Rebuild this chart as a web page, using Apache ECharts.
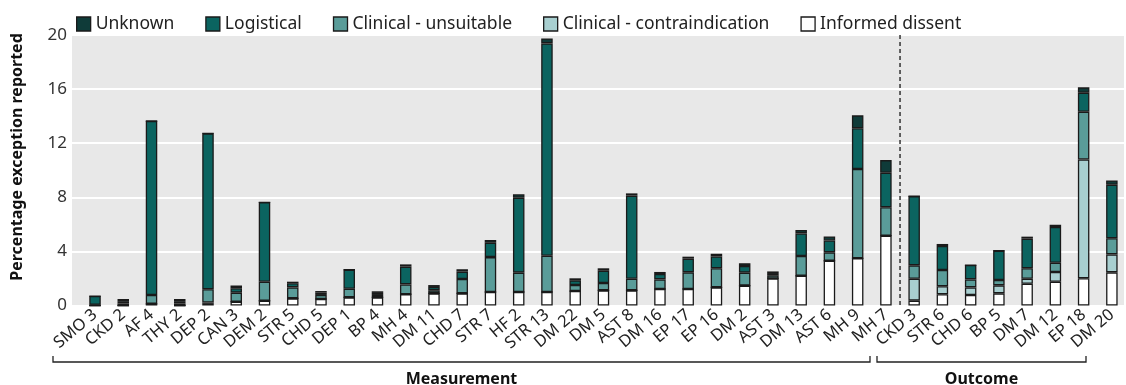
<!DOCTYPE html>
<html>
<head>
<meta charset="utf-8">
<script src="https://cdn.jsdelivr.net/npm/echarts@6/dist/echarts.min.js"></script>
<style>
html,body{margin:0;padding:0;background:#fff;}
#c{width:1126px;height:385px;}
</style>
</head>
<body>
<div id="c"></div>
<script>
const categories = ['SMO 3','CKD 2','AF 4','THY 2','DEP 2','CAN 3','DEM 2','STR 5','CHD 5','DEP 1','BP 4','MH 4','DM 11','CHD 7','STR 7','HF 2','STR 13','DM 22','DM 5','AST 8','DM 16','EP 17','EP 16','DM 2','AST 3','DM 13','AST 6','MH 9','MH 7','CKD 3','STR 6','CHD 6','BP 5','DM 7','DM 12','EP 18','DM 20'];
const informedDissent = [0,0,0.12,0,0.12,0.28,0.35,0.53,0.48,0.6,0.6,0.83,0.9,0.9,1.0,1.0,1.0,1.07,1.12,1.12,1.22,1.22,1.34,1.47,2.0,2.2,3.31,3.49,5.16,0.36,0.83,0.78,0.9,1.61,1.76,2.01,2.45];
const clinicalContraindication = [0,0,0,0,0.1,0,0,0,0,0,0,0,0,0,0,0,0,0,0,0,0,0,0,0,0,0,0,0,0,1.62,0.59,0.56,0.59,0.37,0.72,8.79,1.33];
const clinicalUnsuitable = [0.05,0.15,0.66,0.15,0.98,0.67,1.41,0.81,0.30,0.64,0.18,0.73,0.22,1.06,2.58,1.43,2.68,0.45,0.54,0.86,0.71,1.23,1.41,0.96,0.23,1.46,0.62,6.6,2.1,0.99,1.2,0.59,0.39,0.77,0.68,3.53,1.19];
const logistical = [0.65,0.17,12.86,0.17,11.52,0.32,5.87,0.30,0.17,1.41,0.15,1.31,0.25,0.54,1.06,5.54,15.7,0.34,0.91,6.14,0.40,1.01,0.88,0.49,0.17,1.67,0.88,3.01,2.56,5.12,1.78,1.06,2.17,2.19,2.64,1.4,3.96];
const unknown = [0,0.16,0,0.16,0,0.2,0,0.12,0.12,0,0.12,0.17,0.14,0.18,0.2,0.25,0.37,0.15,0.18,0.17,0.15,0.15,0.2,0.2,0.12,0.25,0.3,0.96,0.93,0,0.15,0,0,0.15,0.17,0.4,0.32];
const yTicks = [0,4,8,12,16,20];
const groups = ['Measurement','Outcome'];
const yTitle = 'Percentage exception reported';

const FONT = 'Noto Sans';
const colors = {
  'Informed dissent':'#ffffff',
  'Clinical - contraindication':'#a8cfd0',
  'Clinical - unsuitable':'#5a9c99',
  'Logistical':'#0b6460',
  'Unknown':'#0f3b39'
};
const seriesDefs = [
  ['Informed dissent', informedDissent],
  ['Clinical - contraindication', clinicalContraindication],
  ['Clinical - unsuitable', clinicalUnsuitable],
  ['Logistical', logistical],
  ['Unknown', unknown]
];

const chart = echarts.init(document.getElementById('c'), null, {renderer:'canvas'});
const option = {
  animation:false,
  textStyle:{fontFamily:FONT},
  legend:{
    data:['Unknown','Logistical','Clinical - unsuitable','Clinical - contraindication','Informed dissent'],
    left:71, top:10, icon:'rect', itemWidth:14, itemHeight:14, itemGap:31,
    itemStyle:{borderColor:'#1a1a1a', borderWidth:1.3},
    textStyle:{fontSize:17.5, color:'#222', fontFamily:FONT}
  },
  grid:[
    {left:80.9, top:35, width:1046.4, bottom:79.5},
    {left:72, top:35, right:2, bottom:79.5, show:true, backgroundColor:'#e8e8e8', borderWidth:0}
  ],
  xAxis:[
    {type:'category', gridIndex:0, data:categories, axisLine:{show:false}, axisTick:{show:false},
     axisLabel:{interval:0, rotate:40, fontSize:16.5, color:'#222', margin:7, fontFamily:FONT}},
    {type:'value', gridIndex:1, show:false, min:0, max:1}
  ],
  yAxis:[
    {type:'value', gridIndex:0, min:0, max:20, interval:4, show:false},
    {type:'value', gridIndex:1, min:0, max:20, interval:4,
     axisLine:{show:false}, axisTick:{show:false},
     splitLine:{lineStyle:{color:'#ffffff', width:2}},
     axisLabel:{fontSize:17, color:'#333', margin:5, fontFamily:FONT,
       formatter:function(v){return yTicks.indexOf(v)>=0?String(v):'';}}}
  ],
  series: seriesDefs.map(function(d){
    return {name:d[0], type:'bar', stack:'s', xAxisIndex:0, yAxisIndex:0, data:d[1], barWidth:11.5,
      itemStyle:{color:colors[d[0]], borderColor:'#1a1a1a', borderWidth:1.3}};
  })
};
chart.setOption(option);

// decorations computed from axis positions
const px = function(c){return chart.convertToPixel({xAxisIndex:0}, c);};
const y0 = chart.convertToPixel({yAxisIndex:0}, 0);
const y20 = chart.convertToPixel({yAxisIndex:0}, 20);
const sepX = (px('MH 7') + px('CKD 3'))/2;
const bracketY = 362;
const gfx = [
  {type:'line', shape:{x1:sepX, y1:y20, x2:sepX, y2:y0}, style:{stroke:'#333', lineWidth:1.5, lineDash:[4,3]}, z:10},
  {type:'text', x:17, y:157, rotation:Math.PI/2, style:{text:yTitle, font:'bold 16px "'+FONT+'"', fill:'#111', textAlign:'center', textVerticalAlign:'middle'}}
];
const bracketSpans = [[53, 870], [877, 1086]];
groups.forEach(function(g, i){
  const a = bracketSpans[i][0], b = bracketSpans[i][1];
  gfx.push({type:'polyline', shape:{points:[[a,bracketY-6],[a,bracketY],[b,bracketY],[b,bracketY-6]]}, style:{stroke:'#222', lineWidth:1.3, fill:null}});
  gfx.push({type:'text', x:(a+b)/2, y:379, style:{text:g, font:'bold 16px "'+FONT+'"', fill:'#111', textAlign:'center', textVerticalAlign:'middle'}});
});
chart.setOption({graphic:gfx});
</script>
</body>
</html>
